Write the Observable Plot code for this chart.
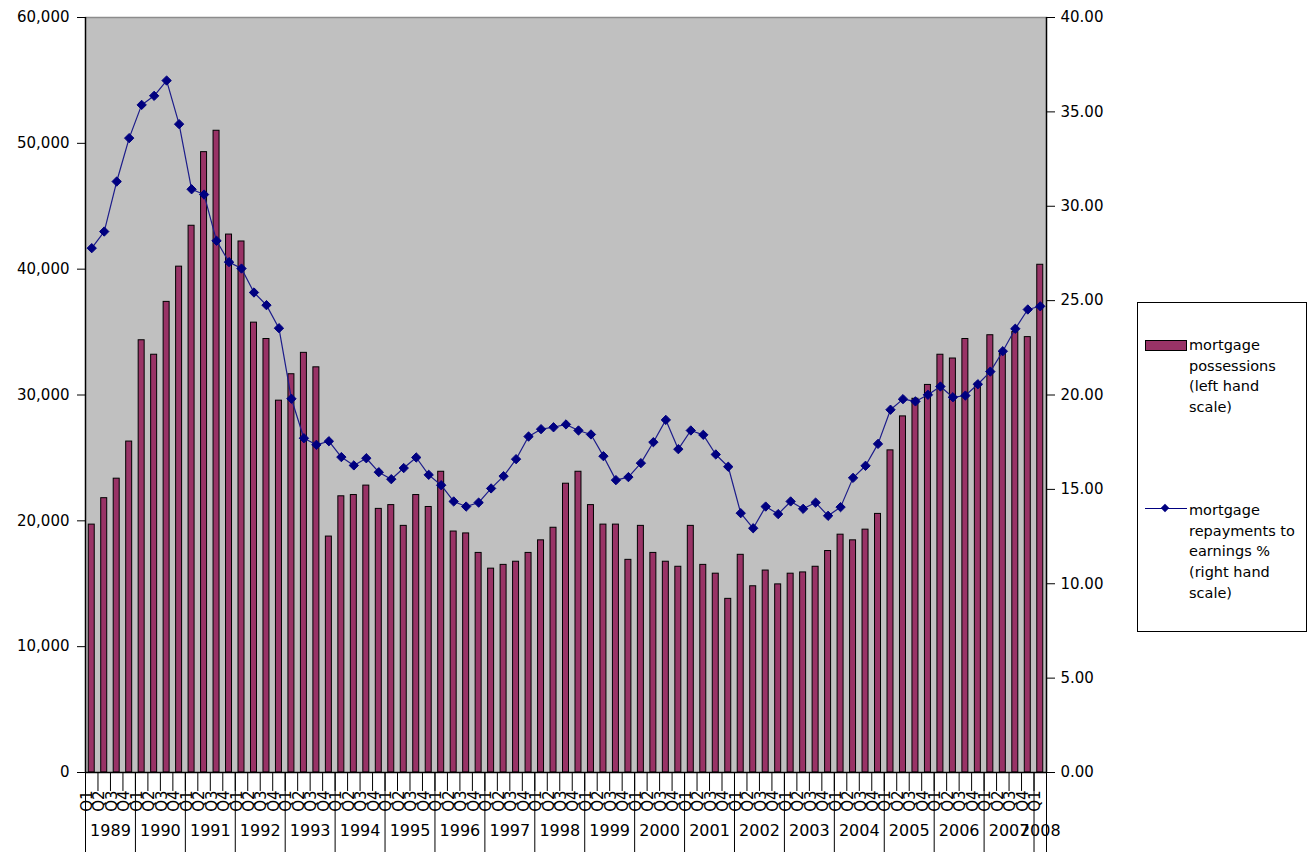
<!DOCTYPE html>
<html><head><meta charset="utf-8">
<script src="https://cdn.jsdelivr.net/npm/d3@7"></script>
<script src="https://cdn.jsdelivr.net/npm/@observablehq/plot@0.6"></script>
<style>
body{margin:0;background:#fff;font-family:"DejaVu Sans",sans-serif;}
#wrap{position:relative;width:1316px;height:852px;overflow:hidden;}
#legend{position:absolute;left:1137px;top:302px;width:170px;height:330px;border:1px solid #000;box-sizing:border-box;background:#fff;font-size:14.5px;line-height:20.7px;color:#000;}
.txt{position:absolute;left:51px;white-space:nowrap;}
.sw{position:absolute;left:7px;top:37px;width:40px;height:9px;background:#993366;border:1px solid #000;}
.ln{position:absolute;left:7px;top:205px;width:42px;height:0;border-top:1.5px solid #000080;}
.dm{position:absolute;left:24px;top:202px;width:6px;height:6px;background:#000080;transform:rotate(45deg);}
</style></head>
<body><div id="wrap"><div id="chart"></div>
<div id="legend">
  <div class="sw"></div>
  <div class="txt" style="top:32px">mortgage<br>possessions<br>(left hand<br>scale)</div>
  <div class="ln"></div><div class="dm"></div>
  <div class="txt" style="top:197px">mortgage<br>repayments to<br>earnings %<br>(right hand<br>scale)</div>
</div></div>
<script>
const years = [1989,1990,1991,1992,1993,1994,1995,1996,1997,1998,1999,2000,2001,2002,2003,2004,2005,2006,2007,2008];
const quarterLabels = ["Q1","Q2","Q3","Q4"];
const possessions = [
  19700,21800,23350,26300, 34350,33200,37400,40200, 43450,49300,51000,42750,
  42200,35750,34450,29550, 31650,33350,32200,18750, 21950,22050,22800,20950,
  21250,19600,22050,21100, 23900,19150,19000,17450, 16200,16500,16750,17450,
  18450,19450,22950,23900, 21250,19700,19700,16900, 19600,17450,16750,16350,
  19600,16500,15800,13800, 17300,14800,16050,14950, 15800,15900,16350,17600,
  18900,18450,19300,20550, 25600,28300,29700,30800, 33200,32900,34450,30900,
  34750,33300,35000,34600, 40350
];
const repayments = [
  27.78,28.66,31.31,33.61, 35.37,35.85,36.66,34.35, 30.90,30.62,28.17,27.04,
  26.70,25.43,24.76,23.54, 19.80,17.71,17.36,17.55, 16.71,16.27,16.65,15.91,
  15.54,16.13,16.69,15.77, 15.22,14.36,14.09,14.30, 15.05,15.70,16.60,17.80,
  18.19,18.29,18.44,18.12, 17.91,16.76,15.49,15.65, 16.39,17.50,18.68,17.13,
  18.12,17.89,16.85,16.20, 13.74,12.94,14.09,13.69, 14.36,13.97,14.30,13.60,
  14.06,15.61,16.25,17.41, 19.22,19.78,19.66,20.01, 20.45,19.88,19.97,20.57,
  21.24,22.32,23.51,24.53, 24.70
];
const leftTicks = [0,10000,20000,30000,40000,50000,60000];
const rightTicks = [0,5,10,15,20,25,30,35,40];

const K = 60000 / 40; // right scale -> left scale
const data = possessions.map((p, i) => ({
  i, year: years[Math.floor(i / 4)], q: quarterLabels[i % 4], p, r: repayments[i]
}));
const yearInfo = years.map(y => {
  const idx = data.filter(d => d.year === y).map(d => d.i);
  return {year: y, mid: d3.mean(idx), last: d3.max(idx)};
});
const qBounds = data.slice(1).map(d => d.i - 0.5);
const yBounds = [-0.5, ...yearInfo.map(d => d.last + 0.5)];
const n = data.length;

const chart = Plot.plot({
  width: 1316, height: 852,
  marginLeft: 85, marginRight: 270, marginTop: 17, marginBottom: 80,
  style: {fontFamily: "DejaVu Sans, sans-serif", fontSize: "15px", color: "#000", background: "transparent"},
  x: {type: "linear", domain: [-0.5, n - 0.5]},
  y: {domain: [0, 60000]},
  marks: [
    Plot.frame({fill: "#C0C0C0", stroke: null}),
    Plot.frame({anchor: "top", stroke: "#8c8c8c", strokeWidth: 1.5}),
    Plot.rectY(data, {x1: d => d.i - 0.24, x2: d => d.i + 0.24, y: "p", fill: "#993366", stroke: "#000", strokeWidth: 1}),
    Plot.line(data, {x: "i", y: d => d.r * K, stroke: "#1c1c8a", strokeWidth: 1.2}),
    Plot.dot(data, {x: "i", y: d => d.r * K, symbol: "diamond2", r: 4.2, fill: "#000080", stroke: "#000080", strokeWidth: 1}),
    Plot.ruleX([-0.5, n - 0.5], {stroke: "#000", strokeWidth: 1.5}),
    Plot.ruleY([0], {stroke: "#000", strokeWidth: 1.5}),
    Plot.axisY({anchor: "left", ticks: leftTicks, tickFormat: d3.format(","), tickSize: 8, tickPadding: 8, label: null, fontSize: 15}),
    Plot.axisY({anchor: "right", ticks: rightTicks.map(v => v * K), tickFormat: d => (d / K).toFixed(2), tickSize: 8, tickPadding: 6, label: null, fontSize: 15}),
    Plot.axisX({anchor: "bottom", ticks: qBounds, tickSize: 19, tickFormat: () => "", label: null}),
    Plot.axisX({anchor: "bottom", ticks: yBounds, tickSize: 80, tickFormat: () => "", label: null}),
    Plot.text(data, {x: "i", text: "q", frameAnchor: "bottom", dy: 18, rotate: -90, textAnchor: "end", fontSize: 15}),
    Plot.text(yearInfo, {x: "mid", text: d => String(d.year), frameAnchor: "bottom", dy: 63, fontSize: 16})
  ]
});
document.getElementById("chart").appendChild(chart);
</script>
</body></html>
